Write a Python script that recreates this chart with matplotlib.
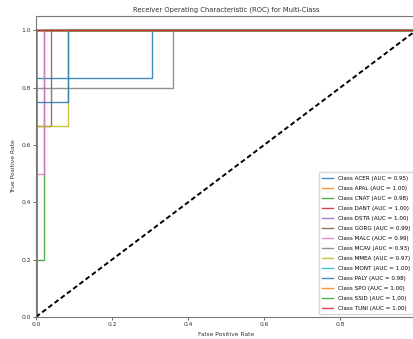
import numpy as np
import matplotlib
matplotlib.use("Agg")
import matplotlib.pyplot as plt

classes = ["ACER", "APAL", "CNAT", "DANT", "DSTR", "GORG", "MALC",
           "MCAV", "MMEA", "MONT", "PALY", "SPO", "SSID", "TUNI"]
aucs = [0.95, 1.00, 0.98, 1.00, 1.00, 0.99, 0.99,
        0.93, 0.97, 1.00, 0.98, 1.00, 1.00, 1.00]

# ROC points (fpr, tpr)
fprs = [
    [0, 0, 0.305, 0.305, 1],   # ACER
    [0, 0, 1],                 # APAL
    [0, 0, 0.02, 0.02, 1],     # CNAT
    [0, 0, 1],                 # DANT
    [0, 0, 1],                 # DSTR
    [0, 0, 0.04, 0.04, 1],     # GORG
    [0, 0, 0.02, 0.02, 1],     # MALC
    [0, 0, 0.36, 0.36, 1],     # MCAV
    [0, 0, 0.083, 0.083, 1],   # MMEA
    [0, 0, 1],                 # MONT
    [0, 0, 0.083, 0.083, 1],   # PALY
    [0, 0, 1],                 # SPO
    [0, 0, 1],                 # SSID
    [0, 0, 1],                 # TUNI
]
tprs = [
    [0, 0.833, 0.833, 1, 1],
    [0, 1, 1],
    [0, 0.2, 0.2, 1, 1],
    [0, 1, 1],
    [0, 1, 1],
    [0, 0.667, 0.667, 1, 1],
    [0, 0.5, 0.5, 1, 1],
    [0, 0.8, 0.8, 1, 1],
    [0, 0.667, 0.667, 1, 1],
    [0, 1, 1],
    [0, 0.75, 0.75, 1, 1],
    [0, 1, 1],
    [0, 1, 1],
    [0, 1, 1],
]

fig = plt.figure(figsize=(4.13, 3.39), dpi=100)
# the reference screenshot is cut on the right, so the axes run past the edge
ax = fig.add_axes([0.087, 0.065, 0.921, 0.888])

for name, auc, fpr, tpr in zip(classes, aucs, fprs, tprs):
    ax.plot(fpr, tpr, lw=1.0, alpha=0.85, label=f"Class {name} (AUC = {auc:.2f})")

ax.plot([0, 1], [0, 1], "k--", lw=1.4, dashes=(2.5, 1.5))
ax.set_xlim([0.0, 1.0])
ax.set_ylim([0.0, 1.05])
ax.set_xlabel("False Positive Rate", fontsize=4.3, color="#333333")
ax.set_ylabel("True Positive Rate", fontsize=4.3, color="#333333")
ax.set_title("Receiver Operating Characteristic (ROC) for Multi-Class",
             fontsize=4.9, color="#333333", pad=3)
ax.tick_params(labelsize=4.3, length=2, width=0.5, pad=1.5, colors="#333333")
for s in ax.spines.values():
    s.set_linewidth(0.8)
    s.set_color("#777777")
ax.legend(loc="lower right", fontsize=4.1, labelspacing=0.88,
          handlelength=1.9, borderpad=0.6, framealpha=0.8)

fig.savefig("out.png", dpi=100)
